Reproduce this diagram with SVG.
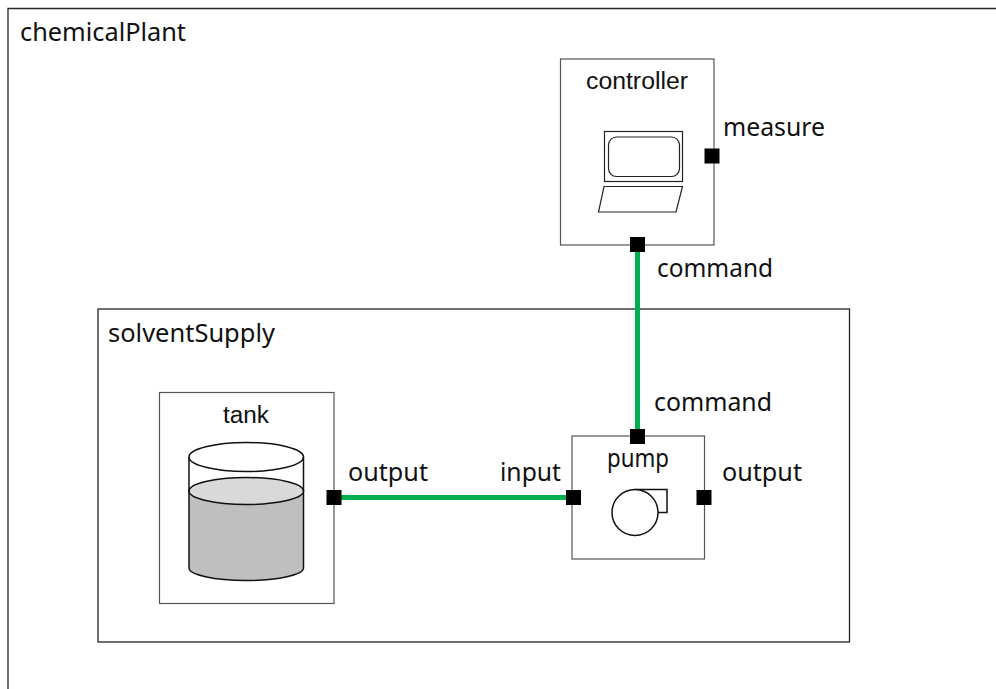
<svg xmlns="http://www.w3.org/2000/svg" width="996" height="689" viewBox="0 0 996 689">
<style>
.frame{fill:none;stroke:#262626;stroke-width:1.3}
.box{fill:#fff;stroke:#555;stroke-width:1.2}
.art{fill:none;stroke:#222;stroke-width:1.2}
.ink{stroke:#111;stroke-width:1.5}
.wire{fill:none;stroke:#00b050;stroke-width:5}
.port{fill:#000}
text{font-family:"Noto Sans","Open Sans","Liberation Sans",sans-serif;font-size:24.500px;fill:#111}
.ar{font-family:"Liberation Sans",Arial,sans-serif;font-size:23px}
</style>
<rect width="996" height="689" fill="#fff"/>
<g id="chemicalPlant">
<path class="frame" d="M8 689V8.500H996"/>
<text x="20" y="40.500" textLength="166" lengthAdjust="spacingAndGlyphs">chemicalPlant</text>
</g>
<g id="solventSupply">
<rect class="frame" x="98" y="309" width="751.500" height="333"/>
<text x="108" y="342" textLength="167" lengthAdjust="spacingAndGlyphs">solventSupply</text>
</g>
<g id="controller">
<rect class="box" x="560.500" y="59" width="153.500" height="186"/>
<text class="ar" x="586" y="89" textLength="102" lengthAdjust="spacingAndGlyphs">controller</text>
<rect class="art" x="604.500" y="131.500" width="78" height="50"/>
<rect class="art" x="608.500" y="137" width="71" height="39.500" rx="8"/>
<path class="art" d="M604 186.500H682.500L676 212H598.500Z"/>
</g>
<g id="tank">
<rect class="box" x="159.500" y="392.500" width="174.500" height="211"/>
<text class="ar" x="223" y="423" textLength="46" lengthAdjust="spacingAndGlyphs">tank</text>
<path d="M189 491V568C189 574.500 214 580.500 246.250 580.500S303.500 574.500 303.500 568V491Z" fill="#bfbfbf" class="ink"/>
<ellipse cx="246.250" cy="491" rx="57.250" ry="13.500" fill="#d9d9d9" class="ink"/>
<ellipse cx="246.250" cy="457" rx="57.250" ry="14.500" fill="#fff" class="ink"/>
<path class="ink" d="M189 457V491M303.500 457V491" fill="none"/>
</g>
<g id="pump">
<rect class="box" x="572" y="436" width="132.500" height="123"/>
<text x="607" y="467" textLength="62" lengthAdjust="spacingAndGlyphs">pump</text>
<path class="ink" fill="none" d="M635 489.500H667V512.500H657"/>
<circle class="ink" fill="#fff" cx="635" cy="512.500" r="23"/>
</g>
<g id="connectors">
<path class="wire" d="M637.500 245V436"/>
<path class="wire" d="M334 497.500H573"/>
</g>
<g id="ports">
<rect class="port" x="704.500" y="148.500" width="15" height="15"/>
<rect class="port" x="630" y="237" width="15" height="15"/>
<rect class="port" x="630" y="429" width="15" height="15"/>
<rect class="port" x="326.500" y="490" width="15" height="15"/>
<rect class="port" x="566" y="490" width="15" height="15"/>
<rect class="port" x="696.500" y="490" width="15" height="15"/>
</g>
<g id="labels">
<text x="723" y="136" textLength="102" lengthAdjust="spacingAndGlyphs">measure</text>
<text x="657" y="277" textLength="116" lengthAdjust="spacingAndGlyphs">command</text>
<text x="654" y="411" textLength="118" lengthAdjust="spacingAndGlyphs">command</text>
<text x="348" y="481" textLength="80" lengthAdjust="spacingAndGlyphs">output</text>
<text x="500" y="481" textLength="61" lengthAdjust="spacingAndGlyphs">input</text>
<text x="722" y="481" textLength="80" lengthAdjust="spacingAndGlyphs">output</text>
</g>
</svg>
